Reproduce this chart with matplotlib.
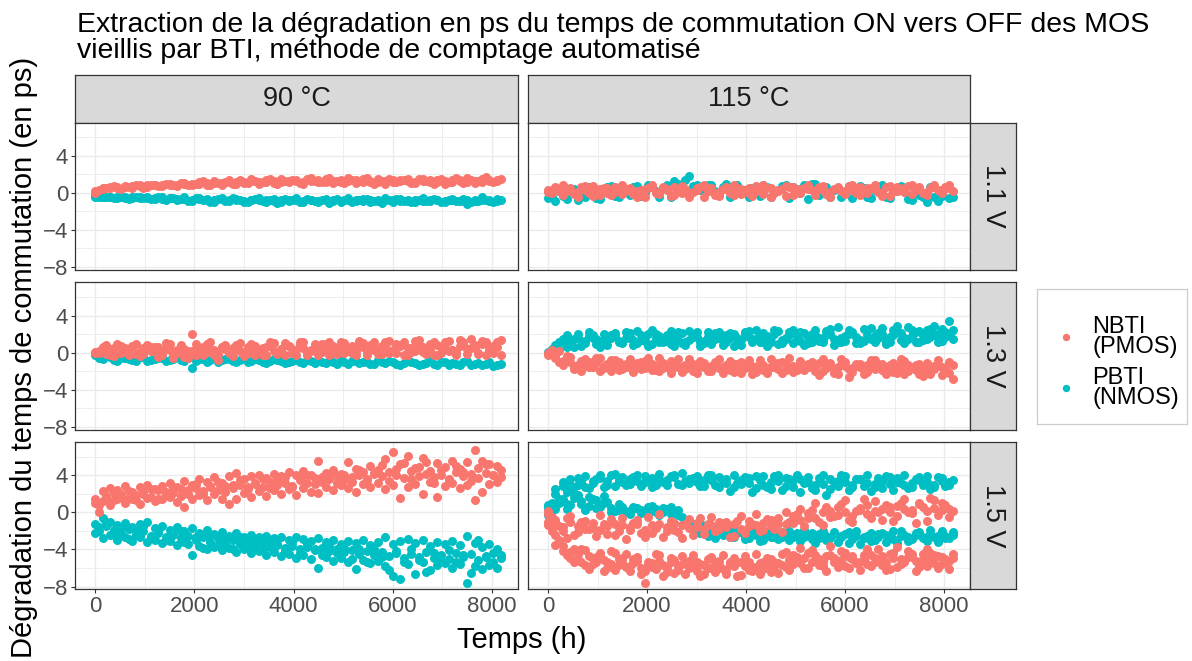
import matplotlib.pyplot as plt
import numpy as np

plt.rcParams['font.family'] = ['Liberation Sans', 'DejaVu Sans']

# measurement times (h): two interleaved schedules, runs alternate between them
temps_a = np.arange(0, 8101, 150)
temps_b = np.arange(75, 8176, 150)

temperatures = ['90 °C', '115 °C']
tensions = ['1.1 V', '1.3 V', '1.5 V']
types = ['NBTI\n(PMOS)', 'PBTI\n(NMOS)']
couleurs = ['#F8766D', '#00BFC4']

titre = ["Extraction de la dégradation en ps du temps de commutation ON vers OFF des MOS",
         "vieillis par BTI, méthode de comptage automatisé"]

# ---- 90 °C, 1.1 V
nbti_90_11_a = [0.0, 0.4, 0.6, 0.5, 0.7, 0.5, 0.8, 0.6, 0.9, 0.7, 1.0,
                0.7, 1.1, 0.8, 1.2, 0.9, 1.3, 0.8, 1.4, 1.0, 1.2, 1.5,
                1.0, 1.4, 1.1, 1.5, 1.2, 1.3, 1.0, 1.6, 1.2, 1.5, 1.1,
                1.4, 1.6, 1.1, 1.5, 1.2, 1.5, 1.0, 1.4, 1.3, 1.5, 1.1,
                1.5, 1.2, 1.4, 1.0, 1.4, 1.3, 1.6, 1.1, 1.5, 1.3, 1.4]
nbti_90_11_b = [0.3, 0.5, 0.7, 0.4, 0.6, 0.8, 0.5, 0.9, 0.7, 1.0, 0.8,
                1.1, 0.9, 1.0, 1.3, 0.8, 1.1, 1.2, 1.0, 1.4, 1.1, 1.3,
                1.2, 1.5, 1.0, 1.3, 1.4, 1.1, 1.5, 1.3, 1.2, 1.6, 1.3,
                1.1, 1.4, 1.3, 1.6, 1.0, 1.3, 1.5, 1.2, 1.4, 1.1, 1.5,
                1.3, 1.0, 1.5, 1.2, 1.6, 1.1, 1.4, 1.3, 1.7, 1.2, 1.5]
nbti_90_11_c = [0.2, 0.5, 0.5, 0.6, 0.6, 0.7, 0.7, 0.8, 0.8, 0.8, 0.9,
                0.9, 1.0, 1.0, 1.0, 1.1, 1.1, 1.1, 1.2, 1.2, 1.1, 1.3,
                1.2, 1.2, 1.3, 1.2, 1.3, 1.4, 1.2, 1.3, 1.4, 1.2, 1.3,
                1.2, 1.3, 1.4, 1.2, 1.3, 1.2, 1.3, 1.2, 1.4, 1.3, 1.2,
                1.3, 1.4, 1.2, 1.3, 1.2, 1.4, 1.2, 1.3, 1.2, 1.4, 1.3]
pbti_90_11_a = [-0.3, -0.5, -0.4, -0.6, -0.5, -0.4, -0.6, -0.5, -0.7, -0.5, -0.6,
                -0.8, -0.5, -0.9, -0.6, -0.7, -1.0, -0.6, -0.9, -0.7, -1.0, -0.8,
                -0.6, -1.0, -0.7, -1.0, -0.9, -0.6, -1.0, -0.8, -1.0, -0.7, -0.9,
                -1.0, -0.6, -0.9, -0.7, -1.0, -0.8, -0.6, -1.0, -0.7, -0.9, -1.0,
                -0.6, -0.9, -0.8, -1.0, -0.7, -0.9, -1.2, -0.8, -0.5, -0.9, -0.7]
pbti_90_11_b = [-0.5, -0.4, -0.6, -0.5, -0.7, -0.4, -0.6, -0.7, -0.5, -0.8, -0.6,
                -0.7, -0.9, -0.6, -0.8, -1.0, -0.7, -0.9, -0.6, -0.8, -1.0, -0.7,
                -0.9, -0.8, -1.1, -0.7, -0.8, -1.0, -0.7, -0.9, -0.8, -1.1, -0.7,
                -0.8, -1.0, -0.8, -0.7, -0.9, -1.1, -0.8, -0.7, -0.9, -1.0, -0.8,
                -0.9, -0.7, -1.0, -0.8, -0.9, -0.7, -1.0, -0.9, -0.8, -1.0, -0.8]
pbti_90_11_c = [-0.4, -0.5, -0.5, -0.5, -0.6, -0.6, -0.5, -0.6, -0.6, -0.7, -0.6,
                -0.7, -0.7, -0.8, -0.7, -0.8, -0.8, -0.7, -0.8, -0.8, -0.9, -0.8,
                -0.8, -0.8, -0.9, -0.8, -0.8, -0.8, -0.9, -0.8, -0.9, -0.8, -0.8,
                -0.9, -0.8, -0.8, -0.9, -0.8, -0.9, -0.8, -0.8, -0.9, -0.8, -0.8,
                -0.9, -0.8, -0.8, -0.9, -0.8, -0.9, -0.8, -0.9, -0.8, -0.8, -0.9]

# ---- 90 °C, 1.3 V
nbti_90_13_a = [0.0, 0.6, -0.2, 0.9, 0.1, 0.7, -0.4, 0.8, 0.2, -0.3, 0.9,
                0.3, -0.5, 2.0, 0.1, 0.9, -0.2, 0.6, 0.0, 0.8, -0.4, 0.9,
                0.2, -0.3, 1.0, 0.1, 0.7, -0.2, 1.1, 0.3, -0.2, 0.9, 0.0,
                1.2, 0.2, -0.2, 1.0, 0.4, -0.1, 1.2, 0.2, 0.8, -0.2, 1.3,
                0.1, 0.9, -0.2, 1.1, 0.3, 1.4, -0.1, 0.8, 1.3, 0.2, 1.2]
nbti_90_13_b = [0.2, -0.1, 0.5, 0.0, 0.4, -0.1, 0.5, 0.2, 0.6, 0.4, -0.6,
                0.5, 0.2, -0.2, 0.6, 0.3, -0.8, 0.4, 0.5, 0.2, 0.6, -0.2,
                0.5, 0.7, 0.0, -0.3, 0.4, 0.8, 0.1, 0.6, 0.9, -0.2, 0.5,
                0.0, 0.7, 0.9, -0.2, 0.3, 0.7, 0.0, 0.9, -0.3, 0.5, 0.8,
                0.4, -0.3, 0.6, 0.2, -0.2, 0.9, 0.5, 0.0, -0.2, 0.7, -0.3]
nbti_90_13_c = [0.1, 0.3, 0.4, 0.2, 0.5, 0.3, 0.1, 0.4, 0.6, 0.2, 0.3,
                0.0, 0.4, 0.2, 0.5, 0.1, 0.3, 0.6, 0.2, 0.4, 0.1, 0.5,
                0.3, 0.6, 0.2, 0.4, 0.7, 0.3, 0.5, 0.2, 0.6, 0.4, 0.7,
                0.3, 0.5, 0.2, 0.6, 0.8, 0.4, 0.6, 0.3, 0.7, 0.5, 0.2,
                0.6, 0.4, 0.8, 0.5, 0.3, 0.7, 0.4, 0.6, 0.9, 0.5, 0.6]
nbti_90_13_d = [0.0, 0.8, -0.4, 0.7, -0.3, 0.9, -0.1, 0.6, -0.5, 1.0, -0.2,
                0.8, -0.6, 0.9, -0.3, 1.1, -0.1, 0.8, -0.4, 1.0, 0.0, 0.7,
                -0.3, 1.1, -0.1, 1.0, 0.0, 1.2, -0.2, 0.9, 0.1, 1.2, -0.1,
                1.0, 0.0, 1.3, 0.1, 1.1, -0.1, 1.3, 0.0, 1.1, 0.1, 1.4,
                -0.1, 1.2, 0.0, 1.3, 0.1, 1.2, 1.5, -0.1, 1.2, 0.0, 1.4]
pbti_90_13_a = [-0.3, -0.7, -0.5, -0.9, -0.6, -0.8, -0.5, -0.9, -0.7, -0.6, -0.8,
                -0.5, -0.9, -1.7, -0.7, -1.0, -0.6, -0.8, -0.7, -1.0, -0.6, -0.9,
                -0.8, -1.1, -0.7, -0.9, -1.0, -0.8, -1.1, -0.9, -0.8, -1.1, -1.0,
                -0.8, -1.2, -0.9, -1.0, -1.2, -0.8, -1.1, -1.0, -1.3, -0.9, -1.1,
                -1.2, -0.9, -1.3, -1.0, -1.1, -1.3, -0.9, -1.2, -1.3, -1.0, -1.3]
pbti_90_13_b = [-0.6, -0.4, -0.8, -0.6, -0.7, -0.9, -0.5, -0.8, -0.6, -0.9, -0.7,
                -0.8, -0.6, -0.9, -0.7, -0.8, -1.0, -0.7, -0.9, -0.8, -1.0, -0.7,
                -1.0, -0.9, -0.8, -1.1, -0.9, -1.0, -0.8, -1.1, -1.0, -0.9, -1.2,
                -1.0, -0.9, -1.1, -1.0, -1.2, -1.0, -0.9, -1.2, -1.1, -1.0, -1.3,
                -1.1, -1.2, -1.0, -1.3, -1.2, -1.0, -1.3, -1.1, -1.2, -1.4, -1.2]

# ---- 90 °C, 1.5 V
nbti_90_15_a = [1.5, 2.3, 2.6, 2.4, 2.9, 2.2, 2.7, 3.0, 2.5, 2.9, 3.2,
                2.8, 3.4, 3.0, 3.6, 3.3, 3.8, 3.2, 3.9, 4.3, 3.6, 3.9,
                4.1, 3.7, 4.2, 3.9, 4.4, 4.1, 4.5, 4.0, 5.6, 4.3, 4.6,
                4.2, 5.5, 4.7, 4.4, 5.0, 4.6, 5.8, 6.5, 5.2, 6.1, 4.8,
                5.9, 4.5, 5.3, 4.9, 5.6, 4.7, 5.4, 6.8, 5.6, 5.2, 5.0]
nbti_90_15_b = [0.0, 1.8, 1.3, 2.0, 1.6, 1.9, 2.2, 1.7, 2.4, 2.0, 2.1,
                2.5, 2.0, 2.6, 2.3, 2.8, 2.4, 2.9, 2.6, 3.0, 2.7, 3.1,
                2.8, 3.3, 3.0, 3.2, 2.9, 3.5, 3.2, 3.7, 3.3, 3.6, 3.9,
                3.5, 3.8, 4.0, 3.6, 4.2, 3.9, 4.4, 4.0, 3.7, 4.5, 3.9,
                4.2, 3.8, 4.1, 3.6, 4.4, 3.9, 4.2, 3.7, 4.3, 4.0, 3.8]
nbti_90_15_c = [1.0, 1.2, 0.8, 1.4, 1.0, 1.5, 0.9, 1.6, 1.2, 1.4, 1.7,
                1.1, 0.6, 1.5, 1.9, 1.3, 2.0, 1.5, 0.9, 1.4, 2.1, 1.7,
                2.3, 1.8, 2.4, 2.0, 2.5, 1.9, 2.6, 2.2, 2.1, 2.8, 2.4,
                3.0, 2.6, 2.2, 3.1, 2.7, 3.2, 2.5, 3.0, 1.6, 2.8, 3.1,
                2.0, 3.3, 1.7, 2.9, 3.2, 2.6, 3.0, 1.3, 2.2, 3.1, 3.3]
nbti_90_15_d = [0.8, 1.4, 2.1, 1.7, 2.3, 1.3, 2.0, 2.5, 1.5, 2.2, 2.7,
                1.8, 2.4, 3.1, 2.0, 2.9, 3.3, 2.2, 3.0, 3.5, 2.5, 3.2,
                3.6, 2.6, 3.4, 3.8, 2.8, 3.7, 4.0, 3.1, 3.8, 4.2, 3.2,
                4.1, 3.3, 4.6, 3.5, 4.3, 5.1, 3.4, 4.7, 5.3, 3.6, 4.9,
                5.5, 3.2, 4.6, 3.5, 5.0, 4.4, 3.4, 4.8, 5.2, 4.1, 4.6]
pbti_90_15_a = [-1.2, -0.6, -1.0, -1.4, -1.1, -1.6, -1.3, -1.0, -1.7, -1.5, -1.9,
                -1.6, -2.0, -1.7, -2.2, -1.9, -2.3, -2.1, -2.5, -2.2, -2.6, -2.4,
                -2.7, -2.5, -2.8, -2.6, -3.0, -2.7, -2.9, -3.1, -2.8, -3.2, -3.0,
                -3.4, -3.1, -3.3, -3.0, -3.5, -3.2, -2.7, -3.4, -3.1, -2.9, -3.3,
                -3.0, -3.6, -3.2, -3.4, -3.1, -3.5, -2.5, -3.3, -3.7, -3.4, -3.9]
pbti_90_15_b = [-2.0, -1.5, -1.9, -2.2, -1.8, -2.4, -2.0, -2.5, -2.2, -2.7, -2.3,
                -2.8, -2.5, -3.0, -2.6, -3.2, -2.8, -3.3, -3.0, -3.4, -3.1, -3.6,
                -3.3, -3.7, -3.4, -3.8, -3.6, -3.9, -3.7, -4.1, -3.8, -4.2, -4.0,
                -4.3, -4.1, -4.5, -4.2, -4.6, -4.3, -4.7, -4.4, -4.9, -4.5, -4.8,
                -4.3, -4.9, -4.6, -5.0, -4.4, -4.8, -4.5, -5.1, -4.7, -4.4, -4.9]
pbti_90_15_c = [-2.2, -2.8, -2.4, -3.0, -2.6, -3.1, -2.7, -3.2, -3.0, -3.3, -3.1,
                -3.5, -3.2, -4.6, -3.6, -3.9, -3.7, -4.1, -3.8, -4.3, -4.0, -4.4,
                -4.2, -4.6, -4.3, -4.7, -4.5, -4.9, -4.6, -5.0, -6.0, -4.8, -5.2,
                -4.9, -5.3, -6.1, -5.1, -5.5, -5.2, -5.8, -6.9, -7.2, -5.6, -6.6,
                -5.4, -6.2, -5.7, -5.5, -6.0, -5.6, -7.6, -5.8, -6.1, -5.7, -6.0]
pbti_90_15_d = [-1.6, -1.0, -2.4, -1.7, -2.9, -2.0, -1.5, -2.6, -1.9, -3.0, -2.4,
                -2.0, -3.4, -2.6, -3.8, -2.4, -3.5, -2.8, -3.9, -2.7, -3.6, -3.0,
                -4.0, -3.1, -3.5, -4.2, -3.2, -4.4, -3.4, -3.9, -4.6, -3.6, -4.4,
                -3.8, -5.0, -4.0, -5.4, -3.9, -4.8, -6.2, -4.2, -5.3, -3.9, -5.1,
                -6.4, -4.4, -5.2, -4.1, -5.3, -4.6, -6.5, -3.0, -4.8, -5.4, -4.6]

# ---- 115 °C, 1.1 V
nbti_115_11_a = [0.3, 0.6, -0.2, 0.5, 0.1, 0.7, -0.3, 0.4, 0.0, 0.6, -0.1,
                 0.5, 0.2, -0.4, 0.6, 0.1, 0.4, -0.2, 0.7, 0.0, 0.3, -0.5,
                 0.5, 0.1, 0.6, -0.2, 0.4, 0.0, 0.7, -0.1, 0.5, 0.2, -0.3,
                 0.6, 0.0, 0.4, -0.2, 0.7, 0.1, 0.5, -0.1, 0.3, 0.6, 0.0,
                 0.4, -0.3, 0.7, 0.2, 0.5, -0.1, 0.6, 0.1, 0.8, 0.3, 0.5]
nbti_115_11_b = [0.0, 0.2, 0.4, -0.1, 0.6, 0.0, 0.3, 0.5, -0.2, 0.2, 0.4,
                 -0.1, 0.3, 0.5, 0.0, 0.6, -0.3, 0.2, 0.4, 0.1, 0.6, 0.2,
                 -0.2, 0.4, 0.0, 0.5, 0.2, -0.3, 0.3, 0.5, 0.0, 0.4, 0.6,
                 0.1, 0.5, 0.3, 0.6, -0.1, 0.4, 0.2, 0.7, 0.0, 0.3, 0.5,
                 0.1, 0.6, 0.2, 0.4, 0.7, 0.3, 0.0, 0.5, 0.3, 0.6, 0.2]
nbti_115_11_c = [0.1, 0.4, 0.8, 0.2, -0.4, 0.3, 0.7, -0.2, 0.5, 0.1, 0.8,
                 0.2, -0.5, 0.4, 0.8, -0.1, 0.3, 0.6, 0.0, -0.4, 0.5, 0.8,
                 0.2, -0.3, 0.4, 0.8, -0.1, 0.5, 0.2, 0.8, -0.4, 0.3, 0.7,
                 -0.2, 0.4, 0.8, 0.0, 0.3, -0.4, 0.6, 0.2, 0.8, -0.2, 0.5,
                 0.8, 0.0, -0.3, 0.6, 0.1, 0.9, 0.4, -0.2, 0.6, 0.0, 0.8]
pbti_115_11_a = [-0.6, -0.9, -0.3, 0.3, -0.8, -0.5, 0.2, -0.7, 0.6, -0.3, 0.5,
                 -0.2, 0.7, 0.0, 0.6, -0.4, 0.8, 1.3, 0.2, 1.8, 0.9, 0.4,
                 0.9, -0.2, 1.0, 0.7, 0.1, -0.4, 0.5, 0.8, -0.5, 0.3, 0.9,
                 0.6, 0.0, -0.7, 1.0, 0.2, -0.4, 0.5, 0.1, -0.6, 0.7, -0.5,
                 0.3, 0.8, -0.6, 0.2, 0.5, -0.8, -0.2, -1.0, -0.5, -0.3, -0.6]
pbti_115_11_b = [-0.5, 0.2, -0.7, 0.4, -0.3, 0.6, -0.6, 0.1, 0.7, -0.4, 0.3,
                 0.6, -0.3, 0.8, 0.2, 0.5, -0.5, 1.0, 1.4, 0.7, 0.3, 0.8,
                 0.2, 0.6, -0.4, 0.9, 0.3, 0.5, -0.3, 0.6, 0.2, 0.7, -0.6,
                 0.4, 0.8, 1.0, -0.2, 0.6, 0.3, -0.5, 0.7, 0.2, 0.5, -0.6,
                 0.6, -0.4, 0.3, 0.7, -0.7, 0.4, -0.5, 0.6, -0.9, 0.5, -0.4]

# ---- 115 °C, 1.3 V
nbti_115_13_a = [0.0, -0.3, -0.9, -0.5, -1.3, -0.7, -1.6, -0.6, -1.2, -0.8, -1.8,
                 -0.7, -1.4, -0.9, -1.9, -0.6, -1.5, -1.0, -2.1, -0.7, -1.6, -1.1,
                 -2.0, -0.7, -1.7, -1.2, -2.2, -0.8, -1.5, -1.9, -0.7, -1.8, -1.3,
                 -2.1, -0.9, -1.6, -2.0, -0.7, -1.4, -2.3, -1.0, -1.7, -1.2, -2.1,
                 -0.8, -1.9, -1.3, -2.2, -0.9, -1.7, -2.3, -1.1, -1.8, -2.4, -1.0]
nbti_115_13_b = [0.3, 0.2, -0.4, -1.4, -2.0, -1.0, -0.6, -1.7, -0.8, -1.9, -1.2,
                 -2.1, -1.0, -0.6, -1.9, -1.1, -2.2, -0.7, -1.3, -2.0, -0.9, -1.8,
                 -1.2, -2.2, -0.9, -1.9, -1.4, -2.3, -0.8, -1.7, -1.1, -2.2, -0.6,
                 -1.5, -1.9, -1.0, -2.4, -1.4, -1.8, -0.7, -2.6, -1.2, -1.9, -0.8,
                 -1.5, -2.3, -1.1, -0.7, -2.0, -1.3, -2.5, -1.5, -0.8, -2.0, -2.8]
nbti_115_13_c = [-0.3, -0.6, -1.3, -1.0, -1.7, -1.4, -1.0, -2.0, -1.5, -1.2, -1.4,
                 -1.6, -1.1, -1.7, -1.2, -2.0, -1.3, -1.6, -1.5, -1.2, -2.2, -1.5,
                 -1.4, -1.7, -1.3, -2.1, -1.0, -1.6, -2.1, -1.3, -1.5, -1.1, -1.9,
                 -1.4, -1.7, -1.2, -1.5, -2.0, -1.1, -1.6, -1.4, -2.1, -1.5, -1.3,
                 -1.8, -1.2, -1.6, -1.4, -2.3, -1.5, -1.2, -2.0, -1.4, -1.6, -2.2]
nbti_115_13_d = [-0.1, -1.0, -0.7, -1.8, -0.9, -1.5, -1.1, -1.4, -2.0, -1.0, -1.5,
                 -1.3, -1.8, -1.1, -1.4, -1.7, -0.9, -1.5, -1.8, -1.2, -1.4, -2.0,
                 -1.0, -1.5, -1.9, -1.2, -1.7, -1.4, -1.1, -2.2, -1.6, -1.0, -1.6,
                 -1.9, -1.3, -1.5, -1.1, -1.7, -2.2, -1.3, -1.8, -1.4, -2.3, -1.5,
                 -1.2, -1.6, -2.1, -1.5, -1.3, -1.9, -1.6, -2.3, -1.4, -1.7, -1.3]
pbti_115_13_a = [0.0, 0.5, 1.2, 0.8, 1.6, 1.0, 1.9, 1.3, 0.8, 1.8, 1.2,
                 2.1, 1.0, 1.7, 2.4, 1.1, 1.9, 0.7, 2.1, 1.4, 2.2, 1.0,
                 1.8, 2.2, 1.2, 2.0, 0.8, 2.3, 1.5, 2.1, 1.1, 2.3, 1.6,
                 1.0, 2.2, 1.7, 2.5, 1.2, 2.0, 2.8, 1.3, 2.1, 1.0, 2.4,
                 1.8, 2.7, 1.2, 2.2, 1.6, 2.5, 1.1, 2.4, 1.9, 2.6, 3.4]
pbti_115_13_b = [0.2, 0.3, 0.6, 1.5, 0.7, 1.8, 0.9, 2.0, 1.6, 1.1, 2.2,
                 1.4, 1.9, 0.7, 2.0, 1.5, 0.9, 2.2, 1.2, 1.8, 0.7, 2.2,
                 1.5, 0.8, 2.1, 1.6, 2.2, 1.1, 1.9, 0.7, 2.0, 1.4, 2.2,
                 1.8, 0.8, 2.0, 1.3, 1.9, 0.8, 1.6, 2.4, 1.0, 2.6, 1.5,
                 2.1, 0.9, 2.5, 1.4, 2.8, 1.2, 1.9, 2.6, 1.1, 2.2, 1.5]
pbti_115_13_c = [0.1, 0.8, 1.5, 1.1, 2.0, 1.3, 1.6, 0.6, 1.4, 2.1, 1.0,
                 1.6, 2.3, 1.3, 0.9, 1.8, 1.3, 1.6, 1.0, 2.3, 1.7, 1.3,
                 0.9, 1.6, 1.9, 0.7, 1.4, 1.7, 2.4, 1.2, 1.7, 0.9, 1.5,
                 2.5, 1.3, 1.0, 1.9, 1.5, 2.6, 1.1, 1.8, 2.2, 1.4, 1.9,
                 1.2, 2.0, 1.7, 2.9, 1.0, 1.8, 2.3, 1.5, 2.9, 1.3, 2.0]
pbti_115_13_d = [0.4, 1.1, 1.9, 0.6, 1.3, 2.2, 1.5, 1.0, 1.9, 1.3, 1.6,
                 0.8, 1.4, 2.0, 1.6, 1.2, 2.3, 1.4, 0.8, 1.7, 1.2, 1.7,
                 2.1, 1.3, 1.6, 0.9, 2.0, 1.5, 1.2, 1.8, 2.4, 1.0, 1.9,
                 1.4, 2.1, 1.2, 1.6, 2.3, 1.5, 1.1, 2.0, 1.7, 1.3, 2.7,
                 1.6, 1.3, 1.9, 2.1, 1.5, 2.2, 1.4, 1.7, 2.0, 1.7, 2.4]

# ---- 115 °C, 1.5 V (two devices of each type)
nbti_115_15_a = [0.2, -0.8, -1.6, -0.4, -2.1, -0.9, -1.7, -0.3, -2.3, -1.2, -0.6,
                 -1.9, -0.8, -2.6, -1.4, -0.2, -2.0, -1.1, -2.8, -0.7, -1.6, -2.3,
                 -0.5, -1.8, -1.0, -2.5, -0.4, -1.5, -0.2, -1.9, -0.8, -1.3, 0.1,
                 -1.1, 0.4, -0.6, 1.0, -1.4, 0.2, -0.3, 1.3, -1.0, 0.5, -0.2,
                 1.2, -0.8, 0.6, -0.4, 1.5, -0.1, 0.9, -0.9, 1.3, 0.3, -0.5]
nbti_115_15_b = [-0.5, -1.5, -0.6, -2.4, -1.0, -1.8, -2.5, -1.3, -0.7, -2.0, -2.9,
                 -1.1, -2.2, -0.5, -1.7, -2.6, -0.9, -2.1, -1.3, -2.4, -0.6, -1.2,
                 -2.0, -1.1, -2.6, -0.9, -2.2, -1.2, -2.0, -0.7, -1.8, -2.1, -1.0,
                 -0.2, -1.5, 0.3, -1.0, 0.6, -0.4, 0.9, -0.8, 0.2, 1.4, -0.6,
                 0.0, 0.8, -0.9, 1.0, 0.1, -1.1, 0.6, 1.6, -0.3, 0.8, 0.2]
nbti_115_15_c = [-1.0, -2.4, -3.6, -4.3, -5.0, -4.1, -5.6, -4.6, -6.0, -4.4, -5.2,
                 -6.3, -4.8, -7.6, -5.5, -4.6, -6.4, -5.1, -4.7, -6.0, -5.3, -6.6,
                 -4.8, -5.7, -6.2, -4.9, -6.8, -5.4, -4.5, -6.1, -5.0, -6.5, -4.3,
                 -5.6, -3.8, -6.0, -4.6, -5.3, -3.6, -5.9, -4.4, -5.0, -6.2, -3.9,
                 -5.4, -4.7, -6.1, -3.7, -5.2, -4.5, -5.9, -4.0, -5.5, -4.8, -6.1]
nbti_115_15_d = [-2.0, -3.2, -2.8, -5.4, -3.9, -6.1, -4.8, -6.3, -4.2, -5.7, -4.5,
                 -5.0, -6.6, -5.4, -4.5, -6.9, -4.9, -5.8, -6.7, -4.6, -6.9, -5.0,
                 -6.4, -4.6, -5.3, -6.9, -4.7, -5.9, -6.7, -4.9, -5.8, -4.5, -6.2,
                 -4.8, -6.0, -4.1, -5.7, -6.3, -4.9, -4.2, -6.0, -5.5, -4.6, -5.8,
                 -4.0, -6.2, -4.9, -5.6, -4.2, -6.3, -5.0, -4.4, -6.0, -5.3, -4.5]
nbti_115_15_e = [-0.2, -1.2, -2.0, -1.0, -1.5, -1.8, -1.1, -1.9, -1.5, -2.4, -1.4,
                 -1.6, -1.2, -1.9, -2.2, -1.3, -1.6, -1.9, -1.4, -1.7, -1.1, -1.8,
                 -1.4, -1.0, -1.6, -1.3, -1.8, -0.9, -1.4, -1.1, -1.5, -0.6, -1.3,
                 -0.4, -0.8, -0.1, -0.6, 0.1, -0.5, 0.6, 0.0, -0.4, 0.3, 0.8,
                 0.2, 0.4, 0.1, 0.7, 0.4, 0.3, 1.0, 0.2, 0.5, 1.0, 0.4]
nbti_115_15_f = [-1.6, -3.0, -4.6, -4.0, -5.4, -4.7, -5.3, -5.1, -5.6, -5.0, -5.9,
                 -5.5, -6.0, -5.6, -6.1, -5.7, -5.3, -6.2, -5.5, -5.9, -5.6, -6.0,
                 -5.4, -6.1, -5.6, -5.3, -5.8, -6.3, -5.5, -5.8, -5.3, -5.7, -5.1,
                 -5.3, -4.9, -5.4, -5.0, -4.7, -5.4, -5.1, -4.8, -5.3, -5.0, -4.6,
                 -5.1, -5.4, -4.4, -5.0, -4.8, -5.2, -4.5, -5.1, -4.7, -5.0, -4.9]
nbti_115_15_g = [-1.4, -3.5, -4.2, -4.9, -4.5, -5.7, -5.0, -4.4, -5.4, -6.2, -4.9,
                 -5.8, -5.2, -6.3, -5.9, -5.2, -6.0, -6.5, -5.6, -5.2, -6.3, -5.7,
                 -6.0, -5.2, -6.6, -5.8, -5.3, -6.2, -5.9, -5.4, -6.4, -5.5, -5.9,
                 -4.6, -5.5, -4.4, -5.2, -5.8, -4.6, -5.4, -5.8, -4.7, -5.3, -5.6,
                 -4.9, -5.7, -4.5, -5.9, -5.3, -4.8, -5.5, -5.8, -4.6, -5.6, -5.2]
pbti_115_15_a = [0.5, 2.0, 2.9, 3.6, 3.0, 3.9, 3.2, 4.1, 3.4, 2.9, 3.8,
                 3.1, 4.0, 3.3, 3.7, 4.2, 3.0, 3.8, 4.3, 3.2, 3.9, 3.5,
                 4.1, 2.8, 3.6, 4.0, 3.1, 3.7, 2.6, 3.9, 3.3, 4.0, 2.9,
                 3.5, 2.2, 3.8, 3.0, 4.1, 2.5, 3.4, 3.9, 2.7, 3.6, 4.0,
                 3.1, 2.6, 3.8, 3.3, 4.0, 2.8, 3.5, 3.9, 3.0, 3.7, 3.3]
pbti_115_15_b = [1.0, 1.4, 2.2, 2.7, 3.4, 2.6, 3.6, 2.8, 4.0, 3.5, 3.0,
                 3.8, 2.9, 3.5, 3.0, 3.3, 3.9, 3.1, 3.4, 3.7, 2.9, 4.0,
                 3.0, 3.4, 2.3, 3.2, 3.8, 2.2, 3.5, 2.8, 3.9, 2.4, 3.6,
                 4.1, 3.2, 2.6, 3.7, 1.9, 3.3, 4.0, 2.4, 3.6, 2.9, 2.3,
                 3.7, 3.9, 2.4, 3.2, 2.6, 3.6, 3.0, 2.5, 3.8, 2.9, 3.5]
pbti_115_15_c = [-0.3, 0.4, 1.5, 0.8, 1.9, 0.3, 1.4, 0.6, 1.1, 0.2, 0.6,
                 -0.2, 0.5, 0.1, 0.7, -0.3, 0.4, 0.0, -0.5, -1.0, -1.4, -1.8,
                 -2.0, -1.6, -2.3, -2.6, -2.1, -2.8, -2.4, -3.0, -2.6, -2.9, -2.2,
                 -2.7, -3.1, -2.4, -3.3, -2.0, -2.8, -3.2, -2.3, -2.9, -3.4, -2.5,
                 -3.0, -2.2, -2.7, -3.3, -2.4, -2.9, -2.1, -3.1, -2.6, -2.0, -2.8]
pbti_115_15_d = [0.3, 1.0, 0.4, 2.0, 0.9, 1.7, 0.5, 1.8, 0.1, 0.9, 0.0,
                 0.4, -0.1, 0.6, 0.0, 0.5, -0.2, 0.3, -0.8, -1.3, -1.1, -2.0,
                 -1.7, -2.4, -1.9, -2.2, -2.9, -2.0, -3.1, -2.3, -2.7, -2.1, -3.0,
                 -2.2, -1.9, -2.9, -2.3, -3.0, -2.1, -2.5, -3.3, -2.0, -2.6, -3.1,
                 -2.3, -3.2, -2.0, -2.5, -3.1, -2.2, -2.8, -1.9, -3.2, -2.5, -2.1]
pbti_115_15_e = [0.8, 2.5, 3.3, 2.9, 3.7, 2.7, 3.4, 3.7, 3.0, 4.2, 3.3,
                 3.6, 3.4, 3.9, 2.8, 3.6, 3.5, 4.0, 3.0, 3.6, 3.3, 2.9,
                 3.5, 3.8, 3.2, 2.7, 3.5, 3.2, 3.9, 3.0, 2.5, 3.4, 3.7,
                 2.8, 3.6, 3.3, 2.4, 3.1, 3.6, 2.9, 3.3, 3.0, 3.6, 3.2,
                 2.7, 3.4, 3.1, 3.7, 3.0, 3.2, 3.8, 3.3, 2.7, 3.4, 3.0]
pbti_115_15_f = [0.6, 1.2, 0.9, 1.6, 1.2, 0.7, 1.3, 1.0, 0.5, 0.3, 0.2,
                 0.6, 0.3, -0.2, 0.4, 0.1, 0.6, -0.3, -1.2, -1.7, -2.2, -2.5,
                 -2.8, -2.1, -2.6, -2.0, -2.5, -2.3, -2.7, -2.1, -2.4, -2.6, -2.0,
                 -2.4, -2.6, -2.2, -2.8, -2.5, -2.3, -2.7, -2.1, -2.5, -2.8, -2.2,
                 -2.6, -2.4, -2.9, -2.0, -2.6, -2.4, -2.7, -2.3, -2.5, -2.8, -2.4]

# (temperature, tension) -> [NBTI runs, PBTI runs]; even runs on temps_a, odd on temps_b
series = {
    ('90 °C', '1.1 V'): [[nbti_90_11_a, nbti_90_11_b, nbti_90_11_c],
                         [pbti_90_11_a, pbti_90_11_b, pbti_90_11_c]],
    ('90 °C', '1.3 V'): [[nbti_90_13_a, nbti_90_13_b, nbti_90_13_c, nbti_90_13_d],
                         [pbti_90_13_a, pbti_90_13_b]],
    ('90 °C', '1.5 V'): [[nbti_90_15_a, nbti_90_15_b, nbti_90_15_c, nbti_90_15_d],
                         [pbti_90_15_a, pbti_90_15_b, pbti_90_15_c, pbti_90_15_d]],
    ('115 °C', '1.1 V'): [[nbti_115_11_a, nbti_115_11_b, nbti_115_11_c],
                          [pbti_115_11_a, pbti_115_11_b]],
    ('115 °C', '1.3 V'): [[nbti_115_13_a, nbti_115_13_b, nbti_115_13_c, nbti_115_13_d],
                          [pbti_115_13_a, pbti_115_13_b, pbti_115_13_c, pbti_115_13_d]],
    ('115 °C', '1.5 V'): [[nbti_115_15_a, nbti_115_15_b, nbti_115_15_c, nbti_115_15_d,
                           nbti_115_15_e, nbti_115_15_f, nbti_115_15_g],
                          [pbti_115_15_a, pbti_115_15_b, pbti_115_15_c, pbti_115_15_d,
                           pbti_115_15_e, pbti_115_15_f]],
}

W, H = 1192, 661
fig = plt.figure(figsize=(W / 100, H / 100), dpi=100)


def rect(x0, y0, x1, y1):
    # pixel box (from top-left) -> figure fraction
    return [x0 / W, 1 - y1 / H, (x1 - x0) / W, (y1 - y0) / H]


cols = [(75, 518), (528, 970)]
rows = [(122.5, 269.7), (282.3, 429.5), (442.1, 589.3)]
bord = '#333333'
taille = 42


def strip(box, label, rotation=0):
    s = fig.add_axes(rect(*box))
    s.set_facecolor('#D9D9D9')
    s.set_xticks([])
    s.set_yticks([])
    for sp in s.spines.values():
        sp.set_color(bord)
        sp.set_linewidth(0.9)
    s.text(0.5, 0.5, label, transform=s.transAxes, ha='center', va='center',
           fontsize=19.5, color='#1A1A1A', rotation=rotation)


for j, temp in enumerate(temperatures):
    strip((cols[j][0], 75, cols[j][1], rows[0][0]), temp)
    for i, tens in enumerate(tensions):
        ax = fig.add_axes(rect(cols[j][0], rows[i][0], cols[j][1], rows[i][1]))
        nbti_runs, pbti_runs = series[(temp, tens)]
        for k, run in enumerate(pbti_runs):
            ax.scatter(temps_b if k % 2 else temps_a, run, s=taille,
                       color=couleurs[1], linewidths=0, zorder=2)
        for k, run in enumerate(nbti_runs):
            ax.scatter(temps_b if k % 2 else temps_a, run, s=taille,
                       color=couleurs[0], linewidths=0, zorder=3)
        ax.set_xlim(-405, 8525)
        ax.set_ylim(-8.3, 7.6)
        ax.set_xticks([0, 2000, 4000, 6000, 8000])
        ax.set_xticks([1000, 3000, 5000, 7000], minor=True)
        ax.set_yticks([-8, -4, 0, 4])
        ax.set_yticks([-6, -2, 2, 6], minor=True)
        ax.grid(True, which='major', color='#EBEBEB', linewidth=1.0, zorder=0)
        ax.grid(True, which='minor', color='#EBEBEB', linewidth=0.6, zorder=0)
        ax.set_axisbelow(True)
        for sp in ax.spines.values():
            sp.set_color(bord)
            sp.set_linewidth(0.9)
        ax.tick_params(which='major', length=3, width=0.8, color=bord,
                       labelsize=16, labelcolor='#4D4D4D', pad=2)
        ax.tick_params(which='minor', length=0)
        if i < 2:
            ax.tick_params(axis='x', which='major', length=0, labelbottom=False)
        if j > 0:
            ax.tick_params(axis='y', which='major', length=0, labelleft=False)
        if j == 1:
            strip((970, rows[i][0], 1016, rows[i][1]), tens, rotation=-90)

for n, ligne in enumerate(titre):
    fig.text(77 / W, 1 - (32.5 + 25 * n) / H, ligne, ha='left', va='baseline',
             fontsize=20.5, color='black')
fig.text(522 / W, 1 - 640 / H, 'Temps (h)', ha='center', va='center', fontsize=21)
fig.text(24 / W, 1 - 357 / H, 'Dégradation du temps de commutation (en ps)',
         ha='center', va='center', rotation=90, fontsize=21)

# legend box
leg = fig.add_axes(rect(1037, 289, 1187, 424))
leg.set_xlim(0, 150)
leg.set_ylim(135, 0)
leg.set_xticks([])
leg.set_yticks([])
for sp in leg.spines.values():
    sp.set_color('#CCCCCC')
    sp.set_linewidth(0.9)
for k, (lab, c) in enumerate(zip(types, couleurs)):
    yk = 48 + 51 * k
    leg.scatter([29], [yk], s=28, color=c, linewidths=0)
    leg.text(55, yk, lab, ha='left', va='center', fontsize=17, linespacing=0.85)

fig.savefig('out.png', dpi=100)
